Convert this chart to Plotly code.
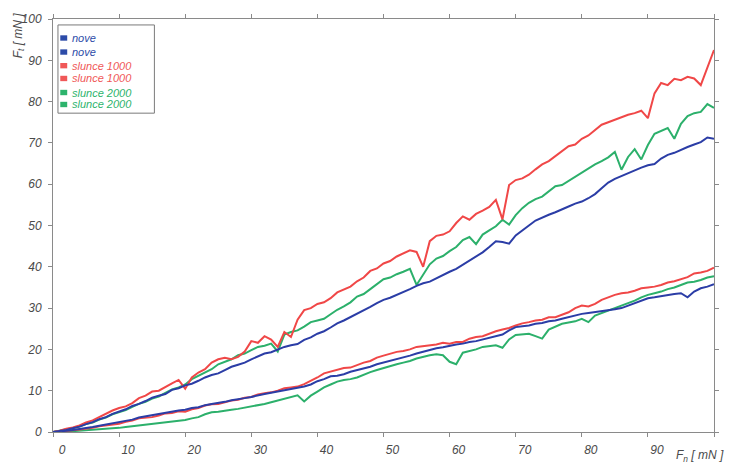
import plotly.graph_objects as go

# shared x (F_n, mN)
fn = list(range(0, 101))

nove_upper = [0, 0.2, 0.5, 0.9, 1.3, 1.9, 2.4, 3.1, 3.6, 4.4, 5.0, 5.5, 6.3, 6.8, 7.5, 8.3, 8.8,
              9.2, 10.2, 10.6, 11.3, 11.7, 12.4, 13.2, 13.8, 14.2, 15.0, 15.8, 16.3, 16.8, 17.6,
              18.4, 19.0, 19.3, 20.0, 20.6, 21.0, 21.3, 22.3, 22.9, 23.8, 24.4, 25.3, 26.3, 27.0,
              27.8, 28.8, 29.4, 30.3, 31.2, 32.0, 32.5, 33.2, 33.8, 34.6, 35.4, 36.0, 36.4, 37.2,
              38.1, 38.8, 39.5, 40.5, 41.6, 42.6, 43.5, 44.8, 46.2, 46.0, 45.6, 47.6, 48.9, 50.0,
              51.2, 52.0, 52.6, 53.2, 54.0, 54.6, 55.3, 55.8, 56.6, 57.6, 59.0, 60.4, 61.3, 62.0,
              62.6, 63.3, 64.0, 64.6, 64.9, 66.2, 67.1, 67.6, 68.4, 69.0, 69.6, 70.2, 71.3, 71.0]
slunce1000_upper = [0, 0.3, 0.8, 1.1, 1.6, 2.3, 2.8, 3.6, 4.2, 5.2, 5.8, 6.2, 7.0, 8.2, 8.8, 9.8,
                    10.0, 10.8, 11.8, 12.6, 10.5, 13.2, 14.4, 15.2, 16.8, 17.6, 18.0, 17.6, 18.2,
                    19.5, 22.0, 21.6, 23.2, 22.4, 20.6, 24.2, 23.0, 27.2, 29.5, 30.0, 31.0, 31.4,
                    32.4, 33.8, 34.6, 35.2, 36.5, 37.4, 39.0, 39.6, 40.8, 41.4, 42.5, 43.2, 44.0,
                    43.6, 40.0, 46.2, 47.5, 47.8, 48.6, 50.6, 52.2, 51.4, 52.8, 53.6, 54.5, 56.2,
                    51.5, 59.8, 61.0, 61.4, 62.3, 63.6, 64.8, 65.6, 66.8, 67.8, 69.2, 69.6, 71.0,
                    71.8, 73.0, 74.4, 75.0, 75.6, 76.3, 76.8, 77.2, 77.8, 76.0, 82.0, 84.5, 84.0,
                    85.5, 85.2, 86.0, 85.6, 84.0, 88.5, 92.5]
slunce2000_upper = [0, 0.3, 0.6, 1.0, 1.3, 1.9, 2.3, 3.0, 3.5, 4.3, 4.8, 5.3, 6.1, 6.8, 7.3, 8.1,
                    8.6, 9.5, 10.3, 10.8, 11.5, 12.8, 13.6, 14.2, 15.2, 16.4, 17.0, 17.6, 18.6,
                    19.0, 19.8, 20.6, 20.9, 21.4, 19.5, 23.6, 24.2, 24.6, 25.5, 26.6, 27.0, 27.4,
                    28.5, 29.6, 30.4, 31.4, 32.8, 33.4, 34.6, 35.8, 37.0, 37.4, 38.2, 38.8, 39.5,
                    35.6, 38.0, 40.6, 42.0, 42.6, 43.8, 44.8, 46.5, 47.2, 45.5, 47.8, 48.8, 49.8,
                    51.4, 50.2, 52.5, 54.2, 55.5, 56.4, 57.0, 58.2, 59.5, 59.8, 60.8, 61.8, 63.0,
                    63.8, 64.8, 65.6, 66.5, 67.8, 63.5, 66.6, 68.5, 66.0, 69.5, 72.2, 73.0, 73.6,
                    71.0, 74.6, 76.5, 77.2, 77.5, 79.4, 78.5]
nove_lower = [0, 0.1, 0.3, 0.5, 0.7, 1.0, 1.2, 1.5, 1.8, 2.2, 2.5, 2.7, 3.0, 3.5, 3.8, 4.0, 4.3,
              4.7, 4.9, 5.2, 5.4, 5.8, 6.0, 6.5, 6.8, 7.0, 7.3, 7.7, 7.9, 8.2, 8.5, 8.9, 9.2, 9.5,
              9.8, 10.2, 10.4, 10.7, 11.0, 11.5, 12.3, 12.8, 13.5, 13.6, 14.0, 14.6, 15.0, 15.3,
              15.8, 16.4, 16.8, 17.2, 17.7, 18.1, 18.5, 19.0, 19.4, 19.9, 20.3, 20.5, 20.9, 21.2,
              21.4, 21.8, 22.0, 22.4, 22.7, 23.2, 23.6, 24.6, 25.4, 25.6, 25.8, 26.2, 26.4, 26.8,
              27.0, 27.4, 27.8, 28.3, 28.6, 28.8, 29.0, 29.2, 29.4, 29.7, 30.0, 30.6, 31.2, 31.9,
              32.4, 32.6, 32.9, 33.2, 33.4, 33.6, 32.6, 34.0, 34.8, 35.2, 35.8]
slunce1000_lower = [0, 0.1, 0.2, 0.4, 0.6, 0.8, 1.0, 1.4, 1.6, 1.7, 2.0, 2.5, 2.8, 3.3, 3.5, 3.6,
                    4.0, 4.5, 4.6, 5.0, 4.9, 5.5, 5.8, 6.4, 6.7, 6.8, 7.2, 7.6, 7.8, 8.3, 8.5, 9.1,
                    9.4, 9.6, 10.0, 10.6, 10.8, 11.0, 11.6, 12.4, 13.2, 14.2, 14.6, 15.1, 15.5,
                    15.6, 16.2, 16.8, 17.2, 18.0, 18.5, 18.9, 19.4, 19.6, 20.0, 20.6, 20.8, 21.0,
                    21.2, 21.6, 21.4, 21.8, 21.8, 22.6, 23.0, 23.2, 23.8, 24.4, 24.8, 25.2, 25.8,
                    26.3, 26.6, 27.0, 27.2, 27.8, 27.8, 28.4, 29.0, 30.0, 30.6, 30.4, 31.0, 32.0,
                    32.6, 33.2, 33.6, 33.8, 34.2, 34.8, 35.0, 35.2, 35.6, 36.2, 36.5, 37.0, 37.5,
                    38.4, 38.6, 39.0, 39.8]
slunce2000_lower = [0, 0.0, 0.1, 0.2, 0.3, 0.4, 0.5, 0.7, 0.8, 0.9, 1.0, 1.2, 1.4, 1.5, 1.7, 2.0,
                    2.2, 2.4, 2.6, 2.7, 2.9, 3.3, 3.6, 4.3, 4.8, 4.9, 5.2, 5.4, 5.6, 5.9, 6.1, 6.5,
                    6.8, 7.2, 7.6, 8.1, 8.5, 8.9, 7.4, 8.8, 9.8, 10.8, 11.5, 12.2, 12.6, 12.8, 13.2,
                    13.9, 14.5, 15.0, 15.5, 15.9, 16.4, 16.8, 17.2, 17.8, 18.2, 18.6, 18.8, 18.6,
                    17.0, 16.4, 19.2, 19.6, 20.0, 20.6, 20.8, 21.0, 20.4, 22.4, 23.5, 23.6, 23.8,
                    23.2, 22.6, 24.8, 25.6, 26.2, 26.5, 26.8, 27.4, 26.6, 28.2, 28.8, 29.3, 30.0,
                    30.6, 31.2, 31.8, 32.6, 33.2, 33.6, 34.0, 34.6, 35.0, 35.6, 36.2, 36.4, 36.8,
                    37.4, 37.7]

legend_names = ["nove", "nove", "slunce 1000", "slunce 1000", "slunce 2000", "slunce 2000"]
x_ticks = [0, 10, 20, 30, 40, 50, 60, 70, 80, 90, 100]
y_ticks = [0, 10, 20, 30, 40, 50, 60, 70, 80, 90, 100]

BLUE = "#2B3DA6"
RED = "#F04747"
GREEN = "#2CB06B"
LEG_COLORS = ["#2C4BA8", "#2C4BA8", "#F05858", "#F05858", "#2DB36C", "#2DB36C"]
FONT = "Liberation Sans, Arial"

fig = go.Figure()
draw = [(slunce2000_lower, GREEN), (slunce1000_lower, RED), (nove_lower, BLUE),
        (slunce2000_upper, GREEN), (slunce1000_upper, RED), (nove_upper, BLUE)]
for vals, col in draw:
    fig.add_trace(go.Scatter(x=fn, y=vals, mode="lines", line=dict(color=col, width=2),
                             showlegend=False, hoverinfo="skip"))

axis_common = dict(showline=True, linecolor="#8a8a8a", linewidth=1, mirror="ticks",
                   ticks="outside", ticklen=4, tickcolor="#8a8a8a", showgrid=False,
                   zeroline=False,
                   tickfont=dict(family=FONT, size=12, color="#4a4a4a", style="italic"))

fig.update_xaxes(range=[0, 100], tickvals=x_ticks, ticklabelshift=9, ticklabelstandoff=3,
                 **axis_common)
fig.update_yaxes(range=[0, 100], tickvals=y_ticks, ticklabelstandoff=4, **axis_common)

fig.add_annotation(xref="paper", yref="paper", x=-0.052, y=1.02, xanchor="center",
                   yanchor="top", textangle=-90, showarrow=False,
                   text="F<sub>t</sub> [ mN ]",
                   font=dict(family=FONT, size=12, color="#4a4a4a", style="italic"))
fig.add_annotation(xref="paper", yref="paper", x=1.018, y=-0.058, xanchor="right",
                   yanchor="middle", showarrow=False, text="F<sub>n</sub> [ mN ]",
                   font=dict(family=FONT, size=12, color="#4a4a4a", style="italic"))

# legend box (paper coordinates of the plot area)
fig.add_shape(type="rect", xref="paper", yref="paper", x0=0.0075, x1=0.1534,
              y0=0.772, y1=0.9856, line=dict(color="#7a7a7a", width=1),
              fillcolor="white", layer="above")
row_y = [0.954, 0.920, 0.887, 0.856, 0.822, 0.793]
for name, col, yy in zip(legend_names, LEG_COLORS, row_y):
    fig.add_shape(type="rect", xref="paper", yref="paper", x0=0.0110, x1=0.0215,
                  y0=yy - 0.0065, y1=yy + 0.0065, line=dict(width=0), fillcolor=col,
                  layer="above")
    fig.add_annotation(xref="paper", yref="paper", x=0.026, y=yy, xanchor="left",
                       yanchor="middle", showarrow=False, text=name,
                       font=dict(family=FONT, size=11, color=col, style="italic"))

fig.update_layout(
    width=731, height=469,
    margin=dict(l=53, r=13, t=16, b=37),
    plot_bgcolor="white", paper_bgcolor="white",
    showlegend=False,
)

fig.write_html("out.html")
